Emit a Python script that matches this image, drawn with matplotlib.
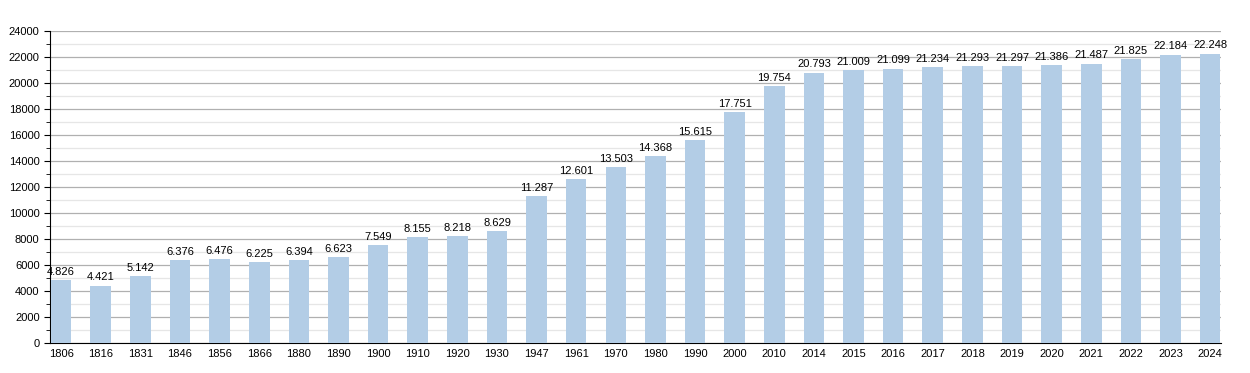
import matplotlib.pyplot as plt
from matplotlib.ticker import MultipleLocator

plt.rcParams['font.family'] = ['Liberation Sans', 'DejaVu Sans']

years = ['1806', '1816', '1831', '1846', '1856', '1866', '1880', '1890', '1900', '1910',
         '1920', '1930', '1947', '1961', '1970', '1980', '1990', '2000', '2010', '2014',
         '2015', '2016', '2017', '2018', '2019', '2020', '2021', '2022', '2023', '2024']
population = [4826, 4421, 5142, 6376, 6476, 6225, 6394, 6623, 7549, 8155,
              8218, 8629, 11287, 12601, 13503, 14368, 15615, 17751, 19754, 20793,
              21009, 21099, 21234, 21293, 21297, 21386, 21487, 21825, 22184, 22248]

fig = plt.figure(figsize=(12.5, 3.73), dpi=100)
ax = fig.add_axes([0.04, 0.0804, 0.937, 0.8366])

x = list(range(len(years)))
ax.bar(x, population, width=0.52, color='#b3cde6', zorder=3)

for xi, v in zip(x, population):
    ax.text(xi, v + 250, f"{v:,}".replace(',', '.'), ha='center', va='bottom',
            fontsize=8, color='black', zorder=4)

ax.set_xlim(-0.28, len(years) - 0.72)
ax.set_ylim(0, 24000)
ax.set_xticks(x)
ax.set_xticklabels(years)
ax.yaxis.set_major_locator(MultipleLocator(2000))
ax.yaxis.set_minor_locator(MultipleLocator(1000))
ax.grid(axis='y', which='major', color='#b0b0b0', linewidth=0.9, zorder=0)
ax.grid(axis='y', which='minor', color='#e6e6e6', linewidth=0.9, zorder=0)
ax.spines['top'].set_visible(False)
ax.spines['right'].set_visible(False)
ax.tick_params(axis='both', labelsize=8, length=4)
ax.tick_params(axis='x', length=0, pad=4)
ax.tick_params(axis='y', which='minor', length=3)

fig.savefig('out.png', dpi=100)
